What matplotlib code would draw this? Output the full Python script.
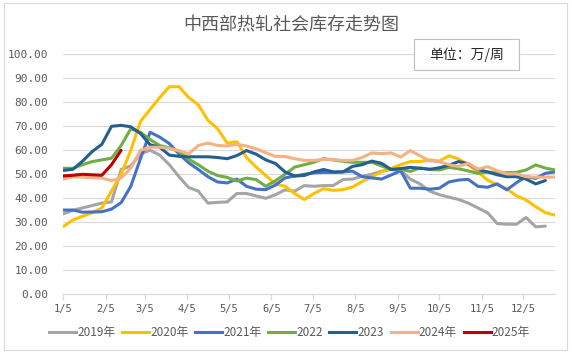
import datetime as dt
import matplotlib
matplotlib.use("Agg")
import matplotlib.pyplot as plt
from matplotlib.patches import Rectangle
from matplotlib.lines import Line2D

plt.rcParams['font.family'] = ['Noto Sans CJK SC', 'DejaVu Sans']

title = "中西部热轧社会库存走势图"
unit_text = "单位：万/周"
tick_labels = ["1/5", "2/5", "3/5", "4/5", "5/5", "6/5", "7/5", "8/5", "9/5", "10/5", "11/5", "12/5"]
series_names = ["2019年", "2020年", "2021年", "2022", "2023", "2024年", "2025年"]
colors = ["#A5A5A5", "#FFC000", "#4472C4", "#70AD47", "#255E91", "#F4B183", "#C00000"]

y2019 = [33.5, 35, 36, 37, 38, 38.5, 52, 53.5, 58.5, 60, 58, 54, 49, 44.5, 43, 38, 38.3, 38.5, 42, 42,
         41, 40, 41.5, 43.5, 43, 45.3, 45, 45.3, 45.3, 47.8, 48, 49.2, 50, 51.3, 52, 51.5, 48, 46, 43, 41.5,
         40.5, 39.5, 38, 36, 34, 29.5, 29.2, 29.2, 32, 28.1, 28.4]
y2020 = [28.2, 31, 32.5, 34, 36, 43, 50, 60, 72, 77, 82, 86.5, 86.5, 82, 79, 72.5, 69, 63, 63.6, 57,
         53, 49.5, 46, 45, 42, 39.5, 42, 44, 43.3, 43.6, 44.7, 47, 49, 51, 52.5, 54, 55.3, 55.3, 56, 55.5,
         57.7, 56.4, 54, 51, 47.6, 45.6, 44, 41, 39.3, 36.5, 34, 33]
y2021 = [35.1, 35.1, 34.2, 34.3, 34.4, 35.5, 38.2, 45, 56.5, 67.5, 65.5, 62.8, 58.5, 54.8, 52, 49, 46.8, 46.4, 48, 45,
         43.8, 43.6, 45.5, 48.5, 49.3, 50, 50.6, 50.8, 50.8, 51, 51.3, 49, 48.5, 48, 49.7, 51.5, 44.2, 44.2, 43.8, 44.2,
         46.8, 47.6, 47.9, 45, 44.6, 46, 43.5, 46.5, 49, 48.3, 50.4, 51]
y2022 = [52.5, 52.5, 54, 55.3, 56, 56.7, 62, 69, 67.5, 64.5, 62, 61, 59.5, 56.3, 54, 51.3, 49.5, 48.7, 47.2, 48.4,
         47.8, 45, 47.3, 50, 53, 54, 55, 56.5, 56, 55.4, 55, 55, 55, 53.5, 52, 52.1, 51.2, 52.7, 52, 51.8,
         52.9, 52.3, 51.4, 50.4, 51, 50.7, 50.7, 50.8, 51.8, 53.9, 52.6, 51.8]
y2023 = [51.6, 52.1, 55.5, 59.5, 62.5, 70, 70.4, 69.8, 67, 62.3, 61.3, 58, 57.5, 57.3, 57.3, 57.3, 57, 56.5, 57.8, 59.9,
         58.4, 56, 54.5, 51, 49.3, 49.5, 51, 52, 51, 51, 53.3, 54, 55.5, 54.6, 52, 52.4, 52.9, 52.5, 52.1, 52.7,
         53.8, 55.3, 54.4, 52, 51, 49.8, 49, 49, 48, 46, 47.4]
y2024 = [48, 49, 48.8, 48.6, 48.4, 47.4, 48.5, 52.5, 60, 61.3, 61.3, 60.8, 59.8, 58.5, 62, 63, 62, 61.8, 62.5, 61.8,
         60.6, 59, 57.5, 57.4, 56.5, 55.8, 55.8, 56.2, 56.2, 55.7, 55.8, 57, 58.9, 58.6, 58.9, 57.2, 59.9, 57.7, 55.6, 55.3,
         54, 53.3, 54.6, 52.1, 53.2, 51.5, 50.2, 50.2, 49, 48.8, 48.8, 48.8]
y2025 = [49.3, 49.6, 50, 49.8, 49.6, 54, 60]

all_series = [y2019, y2020, y2021, y2022, y2023, y2024, y2025]

W, H = 575, 359
fig = plt.figure(figsize=(W / 100, H / 100), dpi=100)

left, right, top, bottom = 63.3, 555, 54.3, 294.3
ax = fig.add_axes([left / W, 1 - bottom / H, (right - left) / W, (bottom - top) / H])

# x positions: day of year, weekly starting Jan 5
def doy(label):
    m, d = label.split("/")
    return dt.date(2019, int(m), int(d)).timetuple().tm_yday

start = doy("1/5")
for vals, c in zip(all_series, colors):
    xs = [start + 7 * i for i in range(len(vals))]
    ax.plot(xs, vals, color=c, lw=2.2, solid_joinstyle='round', solid_capstyle='round', zorder=3)

ax.set_xlim(start, start + 7 * 51)
ax.set_ylim(0, 100)
ax.set_yticks(range(0, 101, 10))
ax.set_yticklabels([f"{v:.2f}" for v in range(0, 101, 10)], family='DejaVu Sans Mono', fontsize=8, color='#595959')
ax.set_xticks([doy(t) for t in tick_labels])
ax.set_xticklabels(tick_labels, family='DejaVu Sans Mono', fontsize=7.5, color='#595959')

ax.yaxis.grid(True, color='#D9D9D9', lw=0.8)
ax.set_axisbelow(True)
for s in ['top', 'right', 'left']:
    ax.spines[s].set_visible(False)
ax.spines['bottom'].set_color('#D9D9D9')
ax.spines['bottom'].set_linewidth(0.8)
ax.tick_params(axis='y', length=0, pad=11)
ax.tick_params(axis='x', direction='out', length=4, color='#D9D9D9', width=0.8, pad=3)

# title
fig.text(291 / W, 1 - 25 / H, title, ha='center', va='center', fontsize=13, color='#595959')

# unit box
rect = Rectangle((414 / W, 1 - 70 / H), 105 / W, 30.7 / H, transform=fig.transFigure,
                 facecolor='white', edgecolor='#BFBFBF', lw=0.8, zorder=5)
fig.patches.append(rect)
fig.text(466.5 / W, 1 - 54.7 / H, unit_text, ha='center', va='center', fontsize=10,
         color='#262626', zorder=6)

# chart border
border = Rectangle((4 / W, 1 - 350 / H), 563 / W, 347 / H, transform=fig.transFigure,
                   fill=False, edgecolor='#D9D9D9', lw=0.8, zorder=1)
fig.patches.append(border)

handles = [Line2D([0], [0], color=c, lw=2.2) for c in colors]
fig.legend(handles, series_names, loc='center', bbox_to_anchor=(289.5 / W, 1 - 332.7 / H),
           ncol=7, frameon=False, handlelength=2.3, handletextpad=0.1, columnspacing=0.55,
           prop={'size': 8.5}, labelcolor='#595959', borderaxespad=0, borderpad=0)

fig.savefig("out.png", dpi=100)
